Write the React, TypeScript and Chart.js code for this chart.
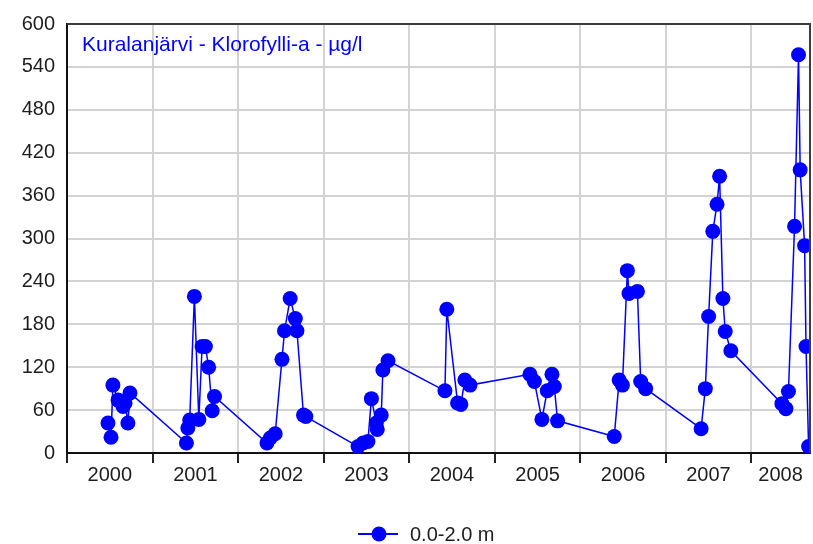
import React, { useEffect, useRef } from "react";
import { Chart, registerables } from "chart.js";

Chart.register(...registerables);

// ---- data ----
const chartTitle = "Kuralanjärvi - Klorofylli-a - µg/l";
const seriesLabel = "0.0-2.0 m";
const yearLabels = ["2000", "2001", "2002", "2003", "2004", "2005", "2006", "2007", "2008"];
const yTicks = [0, 60, 120, 180, 240, 300, 360, 420, 480, 540, 600];
const axisStart = "2000-01-01";
const axisEnd = "2008-09-08";

const sampleDates = [
  "2000-06-24", "2000-07-07", "2000-07-15", "2000-08-06", "2000-08-27", "2000-09-05", "2000-09-17", "2000-09-26",
  "2001-05-25", "2001-05-31", "2001-06-08", "2001-06-28", "2001-07-17", "2001-07-31", "2001-08-14", "2001-08-28", "2001-09-12", "2001-09-22",
  "2002-05-04", "2002-05-18", "2002-06-08", "2002-07-07", "2002-07-18", "2002-08-11", "2002-09-02", "2002-09-09", "2002-10-07", "2002-10-17",
  "2003-05-28", "2003-06-18", "2003-07-09", "2003-07-24", "2003-08-14", "2003-08-18", "2003-09-04", "2003-09-11", "2003-10-03",
  "2004-06-02", "2004-06-10", "2004-07-26", "2004-08-09", "2004-08-26", "2004-09-17",
  "2005-05-31", "2005-06-19", "2005-07-21", "2005-08-13", "2005-09-02", "2005-09-12", "2005-09-26",
  "2006-05-26", "2006-06-16", "2006-06-30", "2006-07-21", "2006-07-28", "2006-09-02", "2006-09-16", "2006-10-07",
  "2007-06-01", "2007-06-19", "2007-07-03", "2007-07-21", "2007-08-08", "2007-08-19", "2007-09-02", "2007-09-12", "2007-10-06",
  "2008-05-11", "2008-05-28", "2008-06-08", "2008-07-04", "2008-07-21", "2008-07-28", "2008-08-16", "2008-08-22", "2008-09-02",
];

const chlorophyll = [
  42, 22, 95, 74, 65, 70, 42, 84,
  14, 35, 46, 219, 47, 149, 149, 120, 59, 79,
  14, 21, 27, 131, 171, 216, 188, 171, 53, 51,
  9, 14, 16, 76, 42, 33, 53, 116, 129,
  87, 201, 70, 68, 102, 95,
  110, 100, 47, 87, 110, 93, 45,
  23, 102, 95, 255, 223, 226, 100, 90,
  34, 90, 191, 310, 348, 387, 216, 170, 143,
  69, 62, 86, 317, 557, 396, 290, 149, 9,
];

const toMs = (s: string) => Date.parse(s + "T00:00:00Z");

const FONT = "'Liberation Sans', Arial, sans-serif";
const BLUE = "#0000ff";
const TEXT = "#1e1e1e";

const noPadding = (axis: any) => {
  axis.paddingLeft = 0;
  axis.paddingRight = 0;
};

export default function App() {
  const canvasRef = useRef<HTMLCanvasElement | null>(null);

  useEffect(() => {
    const canvas = canvasRef.current;
    if (!canvas) return;

    const xMin = toMs(axisStart);
    const xMax = toMs(axisEnd);
    const yearStarts = yearLabels.map((y) => Date.UTC(Number(y), 0, 1));
    const yearMids = yearStarts.map((s, i) => {
      const end = i + 1 < yearStarts.length ? yearStarts[i + 1] : xMax;
      return (s + Math.min(end, xMax)) / 2;
    });

    const points = sampleDates.map((d, i) => ({ x: toMs(d), y: chlorophyll[i] }));

    const framePlugin = {
      id: "frame",
      afterDatasetsDraw(chart: any) {
        const { ctx, chartArea } = chart;
        ctx.save();
        ctx.strokeStyle = "#3c3c3c";
        ctx.lineWidth = 2;
        ctx.beginPath();
        ctx.moveTo(chartArea.left, chartArea.top);
        ctx.lineTo(chartArea.right, chartArea.top);
        ctx.lineTo(chartArea.right, chartArea.bottom);
        ctx.stroke();
        ctx.restore();
      },
    };

    const titlePlugin = {
      id: "inTitle",
      afterDraw(chart: any) {
        const { ctx, chartArea } = chart;
        ctx.save();
        ctx.font = `21px ${FONT}`;
        ctx.fillStyle = BLUE;
        ctx.textAlign = "left";
        ctx.textBaseline = "alphabetic";
        ctx.fillText(chartTitle, chartArea.left + 15, chartArea.top + 27);
        ctx.restore();
      },
    };

    const legendPlugin = {
      id: "lineLegend",
      afterDraw(chart: any) {
        const { ctx } = chart;
        const label = chart.data.datasets[0].label;
        ctx.save();
        ctx.font = `20px ${FONT}`;
        const lineW = 40;
        const gap = 12;
        const x0 = 358;
        const y = 534;
        ctx.strokeStyle = BLUE;
        ctx.lineWidth = 2;
        ctx.beginPath();
        ctx.moveTo(x0, y);
        ctx.lineTo(x0 + lineW, y);
        ctx.stroke();
        ctx.fillStyle = BLUE;
        ctx.beginPath();
        ctx.arc(x0 + lineW / 2 + 1, y, 7.5, 0, Math.PI * 2);
        ctx.fill();
        ctx.fillStyle = TEXT;
        ctx.textAlign = "left";
        ctx.textBaseline = "middle";
        ctx.fillText(label, x0 + lineW + gap, y + 1);
        ctx.restore();
      },
    };

    const chart = new Chart(canvas, {
      type: "line",
      data: {
        datasets: [
          {
            label: seriesLabel,
            data: points,
            borderColor: BLUE,
            backgroundColor: BLUE,
            borderWidth: 1.5,
            pointRadius: 7.5,
            pointHoverRadius: 7.5,
            pointBackgroundColor: BLUE,
            pointBorderWidth: 0,
            tension: 0,
            fill: false,
          },
        ],
      },
      options: {
        responsive: false,
        animation: false,
        events: [],
        layout: { autoPadding: false, padding: { left: 0, top: 24, right: 3, bottom: 51 } },
        plugins: {
          legend: { display: false },
          title: { display: false },
          tooltip: { enabled: false },
        },
        scales: {
          x: {
            type: "linear",
            position: "bottom",
            weight: 0,
            min: xMin,
            max: xMax,
            afterBuildTicks: (axis: any) => {
              axis.ticks = yearStarts.map((v) => ({ value: v }));
            },
            afterFit: (axis: any) => {
              axis.height = 10;
              noPadding(axis);
            },
            ticks: { display: false },
            grid: {
              display: true,
              color: "#d3d3d3",
              lineWidth: 2,
              drawTicks: true,
              tickLength: 10,
              tickColor: "#222222",
              tickWidth: 2,
            },
            border: { display: true, color: "#111111", width: 2 },
          },
          x2: {
            type: "linear",
            position: "bottom",
            weight: 1,
            min: xMin,
            max: xMax,
            afterBuildTicks: (axis: any) => {
              axis.ticks = yearMids.map((v) => ({ value: v }));
            },
            afterFit: (axis: any) => {
              axis.height = 30;
              noPadding(axis);
            },
            ticks: {
              autoSkip: false,
              maxRotation: 0,
              padding: 0,
              color: TEXT,
              font: { family: FONT, size: 20 },
              callback: (_v: any, i: number) => yearLabels[i],
            },
            grid: { display: false, drawTicks: false },
            border: { display: false },
          },
          y: {
            type: "linear",
            min: 0,
            max: 600,
            afterBuildTicks: (axis: any) => {
              axis.ticks = yTicks.map((v) => ({ value: v }));
            },
            afterFit: (axis: any) => {
              axis.width = 67;
            },
            ticks: {
              padding: 12,
              color: TEXT,
              font: { family: FONT, size: 20 },
              autoSkip: false,
            },
            grid: {
              color: "#d3d3d3",
              lineWidth: 2,
              drawTicks: false,
            },
            border: { display: true, color: "#111111", width: 2 },
          },
        },
      },
      plugins: [framePlugin, titlePlugin, legendPlugin],
    } as any);

    return () => chart.destroy();
  }, []);

  return (
    <div style={{ position: "absolute", left: 0, top: 0, width: 813, height: 544, background: "#ffffff" }}>
      <canvas ref={canvasRef} width={813} height={544} />
    </div>
  );
}
